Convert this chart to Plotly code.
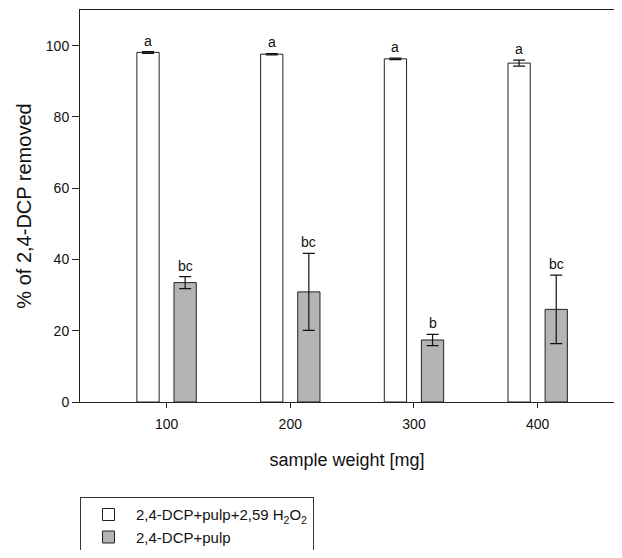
import plotly.graph_objects as go

weights = [100, 200, 300, 400]
h2o2_mean = [98.1, 97.6, 96.3, 95.1]
h2o2_err = [0.25, 0.2, 0.2, 0.85]
h2o2_letters = ["a", "a", "a", "a"]
pulp_mean = [33.5, 30.9, 17.4, 26.0]
pulp_err = [1.7, 10.8, 1.6, 9.6]
pulp_letters = ["bc", "bc", "b", "bc"]

series_names = ["2,4-DCP+pulp+2,59 H<sub>2</sub>O<sub>2</sub>", "2,4-DCP+pulp"]

FONT = "Liberation Sans, Arial, sans-serif"
bargap = 0.4
bargroupgap = 0.4
spacing = 100
slot = spacing * (1 - bargap) / 2

fig = go.Figure()
fig.add_trace(go.Bar(
    x=weights, y=h2o2_mean, name=series_names[0],
    marker=dict(color="white", line=dict(color="#222", width=1)),
    error_y=dict(type="data", array=h2o2_err, color="#111", thickness=1.2, width=6),
))
fig.add_trace(go.Bar(
    x=weights, y=pulp_mean, name=series_names[1],
    marker=dict(color="#b4b4b4", line=dict(color="#222", width=1)),
    error_y=dict(type="data", array=pulp_err, color="#111", thickness=1.2, width=6),
))

annotations = []
for w, m, e, t in zip(weights, h2o2_mean, h2o2_err, h2o2_letters):
    annotations.append(dict(x=w - slot / 2, y=m + e, text=t, showarrow=False,
                            xref="x", yref="y", yanchor="bottom", yshift=1,
                            font=dict(family=FONT, size=14, color="#111")))
for w, m, e, t in zip(weights, pulp_mean, pulp_err, pulp_letters):
    annotations.append(dict(x=w + slot / 2, y=m + e, text=t, showarrow=False,
                            xref="x", yref="y", yanchor="bottom", yshift=1,
                            font=dict(family=FONT, size=14, color="#111")))

fig.update_layout(
    width=606, height=542,
    margin=dict(l=72, r=0, t=2, b=148, autoexpand=False),
    paper_bgcolor="white", plot_bgcolor="white",
    barmode="group", bargap=bargap, bargroupgap=bargroupgap,
    font=dict(family=FONT, size=14, color="#111"),
    showlegend=True,
    legend=dict(x=0, y=-0.243, xanchor="left", yanchor="top",
                bordercolor="#333", borderwidth=1, bgcolor="white",
                font=dict(family=FONT, size=15, color="#111"),
                itemwidth=45, traceorder="normal"),
    annotations=annotations,
    xaxis=dict(range=[30, 461.7], tickvals=weights, ticktext=[str(w) for w in weights],
               showline=True, linecolor="#222", linewidth=1, mirror=True,
               ticks="outside", ticklen=5, tickcolor="#222", ticklabelstandoff=4,
               showgrid=False, zeroline=False, automargin=False,
               tickfont=dict(family=FONT, size=14, color="#111"),
               title=dict(text="sample weight [mg]", font=dict(family=FONT, size=18, color="#111"),
                          standoff=22)),
    yaxis=dict(range=[0, 110], tickvals=[0, 20, 40, 60, 80, 100],
               showline=True, linecolor="#222", linewidth=1,
               ticks="outside", ticklen=7, tickcolor="#222",
               showgrid=False, zeroline=False, automargin=False,
               tickfont=dict(family=FONT, size=14, color="#111"),
               title=dict(text="% of 2,4-DCP removed", font=dict(family=FONT, size=20, color="#111"),
                          standoff=8)),
)

fig.write_html("out.html")
